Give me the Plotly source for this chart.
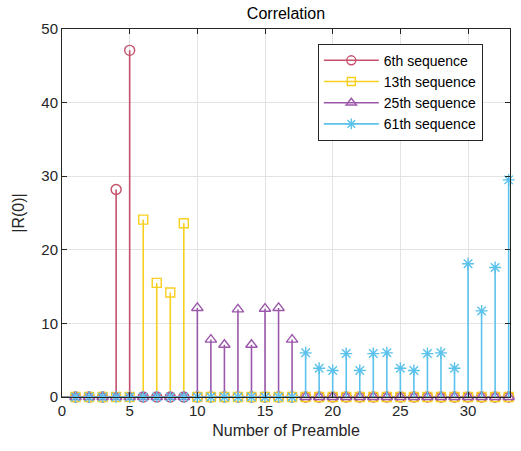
import plotly.graph_objects as go

n_preamble = list(range(1, 34))

seq6 = [0, 0, 0, 28.2, 47.1] + [0] * 28
seq13 = [0] * 5 + [24.1, 15.5, 14.2, 23.6] + [0] * 24
seq25 = [0] * 9 + [12.1, 7.8, 7.1, 11.9, 7.1, 12.0, 12.1, 7.8] + [0] * 16
seq61 = [0] * 17 + [6.0, 3.9, 3.6, 5.9, 3.6, 5.9, 6.0, 3.9, 3.6, 5.9, 6.0, 3.9,
                    18.1, 11.7, 17.6, 29.5]

series = [
    ("6th sequence", seq6, "#C4506B", "circle-open", 10),
    ("13th sequence", seq13, "#F7CF1E", "square-open", 9),
    ("25th sequence", seq25, "#9B57AA", "triangle-up-open", 10),
    ("61st sequence", seq61, "#5BC2EC", "asterisk-open", 10),
]
legend_names = ["6th sequence", "13th sequence", "25th sequence", "61th sequence"]

fig = go.Figure()

# baseline
fig.add_trace(go.Scatter(x=[0, 33.1], y=[0, 0], mode="lines",
                         line=dict(color="#262626", width=1.2),
                         showlegend=False, hoverinfo="skip"))

for (name, vals, color, sym, msize), lname in zip(series, legend_names):
    sx, sy = [], []
    for xv, yv in zip(n_preamble, vals):
        if yv != 0:
            sx += [xv, xv, None]
            sy += [0, yv, None]
    fig.add_trace(go.Scatter(x=sx, y=sy, mode="lines",
                             line=dict(color=color, width=1.6),
                             showlegend=False, hoverinfo="skip"))
    fig.add_trace(go.Scatter(x=n_preamble, y=vals, mode="markers",
                             cliponaxis=False,
                             marker=dict(symbol=sym, size=msize, color=color,
                                         line=dict(color=color, width=1.4)),
                             showlegend=False))
    fig.add_trace(go.Scatter(x=[None], y=[None], mode="lines+markers", name=lname,
                             line=dict(color=color, width=1.6),
                             marker=dict(symbol=sym, size=msize - 1, color=color,
                                         line=dict(color=color, width=1.4))))

axis_common = dict(
    showgrid=True, gridcolor="#E3E3E3", gridwidth=1,
    showline=True, linecolor="#262626", linewidth=1, mirror="ticks",
    ticks="inside", ticklen=5, tickcolor="#262626",
    zeroline=False,
    tickfont=dict(family="Liberation Sans, Arial, sans-serif", size=15, color="#262626"),
)

fig.update_layout(
    width=521, height=451,
    margin=dict(l=62, r=11, t=29, b=54),
    paper_bgcolor="white", plot_bgcolor="white",
    font=dict(family="Liberation Sans, Arial, sans-serif", color="#262626"),
    title=dict(text="Correlation", x=0.5, xref="paper", xanchor="center",
               y=1 - 13 / 451, yref="container", yanchor="middle",
               font=dict(size=16, color="#000000")),
    xaxis=dict(range=[0, 33.1], tickvals=[0, 5, 10, 15, 20, 25, 30],
               title=dict(text="Number of Preamble", standoff=6,
                          font=dict(size=16, color="#262626")),
               **axis_common),
    yaxis=dict(range=[0, 50], tickvals=[0, 10, 20, 30, 40, 50],
               title=dict(text="|R(0)|", standoff=12,
                          font=dict(size=16, color="#262626")),
               **axis_common),
    legend=dict(x=0.571, y=0.96, xanchor="left", yanchor="top",
                bgcolor="white", bordercolor="#262626", borderwidth=1,
                font=dict(size=14, color="#000000"),
                itemwidth=55, tracegroupgap=0),
    showlegend=True,
)

fig.write_html("out.html")
